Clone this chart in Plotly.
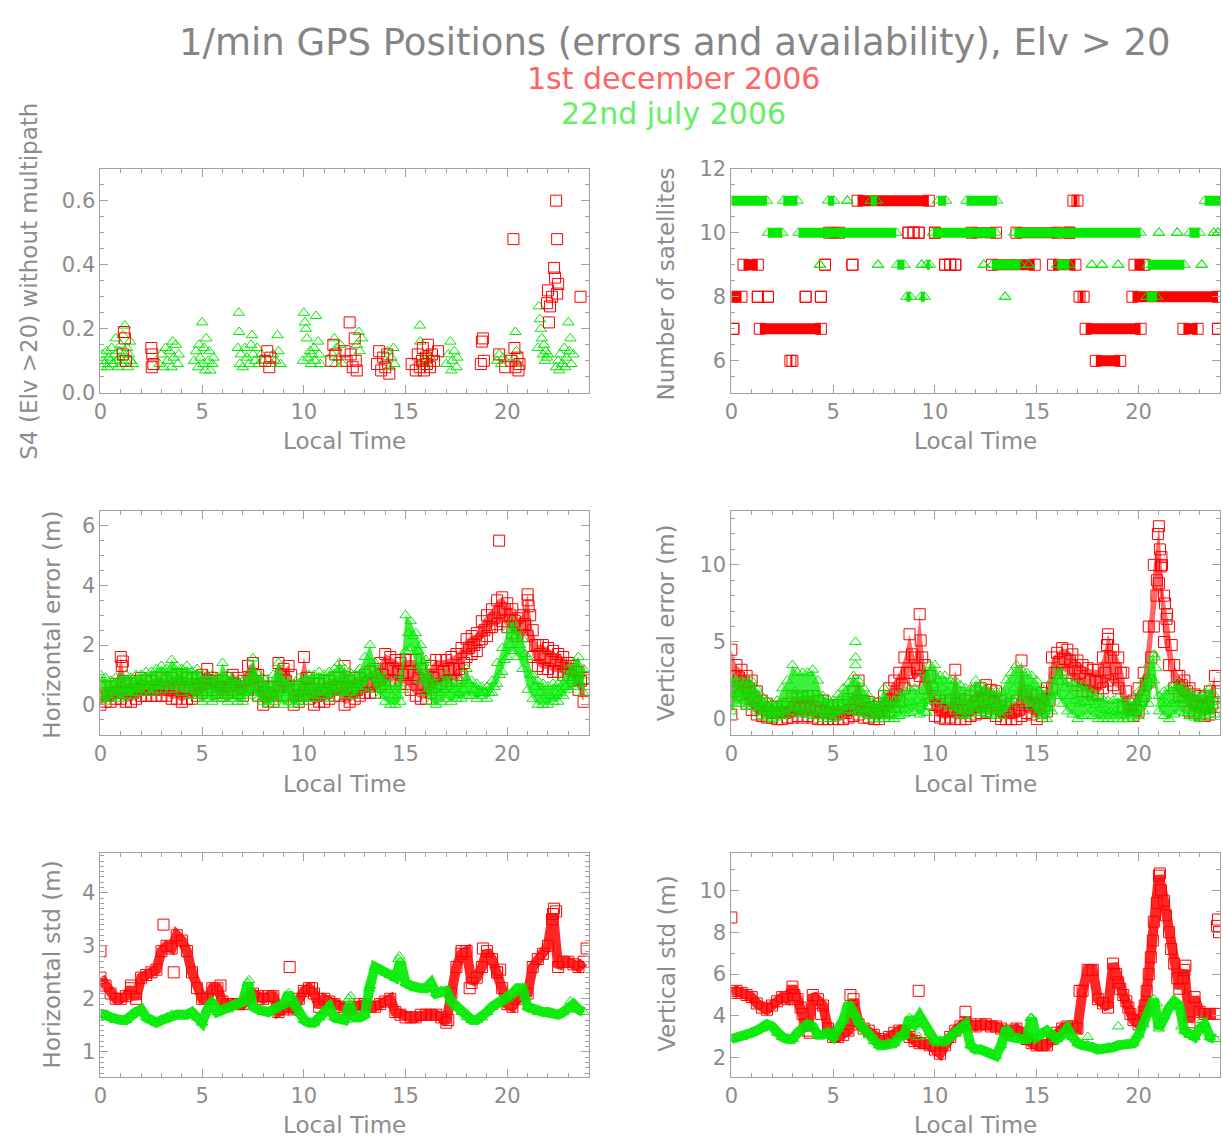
import plotly.graph_objects as go
from plotly.subplots import make_subplots

RED = 'rgb(255,0,0)'
GREEN = 'rgb(0,235,0)'
RED_FILL = 'rgba(255,0,0,0.6)'
GREEN_FILL = 'rgba(0,235,0,0.75)'
RED_BAND = 'rgba(255,0,0,0.85)'
GREEN_BAND = 'rgba(0,235,0,0.9)'
TXT = '#8c8c8c'
AX = '#a0a0a0'
FONT = 'DejaVu Sans'

# time grids (local hour) used by the error / std series
HOURS_A = [0.0, 0.25, 0.5, 0.75, 1.0, 1.25, 1.5, 1.75, 2.0, 2.25, 2.5, 2.75,
           3.0, 3.25, 3.5, 3.75, 4.0, 4.25, 4.5, 4.75, 5.0, 5.25, 5.5, 5.75,
           6.0, 6.25, 6.5, 6.75, 7.0, 7.25, 7.5, 7.75, 8.0, 8.25, 8.5, 8.75,
           9.0, 9.25, 9.5, 9.75, 10.0, 10.25, 10.5, 10.75, 11.0, 11.25, 11.5, 11.75,
           12.0, 12.25, 12.5, 12.75, 13.0, 13.25, 13.5, 13.75, 14.0, 14.25, 14.5, 14.75,
           15.0, 15.25, 15.5, 15.75, 16.0, 16.25, 16.5, 16.75, 17.0, 17.25, 17.5, 17.75,
           18.0, 18.25, 18.5, 18.75, 19.0, 19.25, 19.5, 19.75, 20.0, 20.25, 20.5, 20.75,
           21.0, 21.25, 21.5, 21.75, 22.0, 22.25, 22.5, 22.75, 23.0, 23.25, 23.5, 23.75]
HOURS_B = [0.125, 0.375, 0.625, 0.875, 1.125, 1.375, 1.625, 1.875, 2.125, 2.375, 2.625, 2.875,
           3.125, 3.375, 3.625, 3.875, 4.125, 4.375, 4.625, 4.875, 5.125, 5.375, 5.625, 5.875,
           6.125, 6.375, 6.625, 6.875, 7.125, 7.375, 7.625, 7.875, 8.125, 8.375, 8.625, 8.875,
           9.125, 9.375, 9.625, 9.875, 10.125, 10.375, 10.625, 10.875, 11.125, 11.375, 11.625, 11.875,
           12.125, 12.375, 12.625, 12.875, 13.125, 13.375, 13.625, 13.875, 14.125, 14.375, 14.625, 14.875,
           15.125, 15.375, 15.625, 15.875, 16.125, 16.375, 16.625, 16.875, 17.125, 17.375, 17.625, 17.875,
           18.125, 18.375, 18.625, 18.875, 19.125, 19.375, 19.625, 19.875, 20.125, 20.375, 20.625, 20.875,
           21.125, 21.375, 21.625, 21.875, 22.125, 22.375, 22.625, 22.875, 23.125, 23.375, 23.625, 23.875]

# --- S4 (scintillation index) ---
S4_GREEN_T = [0.05, 0.1, 0.15, 0.2, 0.3, 0.35, 0.4, 0.5, 0.55, 0.6, 0.7, 0.75, 0.8, 0.85, 0.9, 0.95,
              1.0, 1.05, 1.1, 1.15, 1.2, 1.25, 1.3, 1.35, 1.4, 1.45, 1.5, 1.6,
              2.9, 3.0, 3.1, 3.2, 3.3, 3.4, 3.5, 3.55, 3.6, 3.7, 3.8, 3.85,
              4.6, 4.7, 4.8, 4.85, 4.9, 5.0, 5.05, 5.1, 5.15, 5.2, 5.3, 5.35, 5.4, 5.5, 5.55,
              6.75, 6.8, 6.82, 6.85, 6.9, 7.0, 7.1, 7.2, 7.3, 7.4, 7.45, 7.5, 7.6, 7.7, 7.8, 7.9, 8.0,
              8.4, 8.5, 8.6, 8.7, 8.75, 8.85,
              9.95, 10.0, 10.05, 10.1, 10.15, 10.2, 10.3, 10.35, 10.4, 10.5, 10.55, 10.6, 10.7, 10.75, 10.8,
              11.4, 11.5, 11.55, 11.6, 11.7, 11.8, 11.9, 12.6, 12.7, 12.75, 12.85,
              14.0, 14.1, 14.2, 14.3, 14.4, 14.45, 15.7, 15.72, 15.8, 15.9, 16.0, 16.1, 16.2,
              17.0, 17.1, 17.2, 17.25, 17.3, 17.4, 17.5, 17.55, 19.5, 19.6, 19.7, 19.8,
              20.35, 20.4, 20.45, 20.5,
              21.5, 21.55, 21.6, 21.65, 21.7, 21.75, 21.8, 21.85, 21.9, 21.95, 22.0,
              22.4, 22.5, 22.55, 22.6, 22.7, 22.8, 22.85, 22.9, 23.0, 23.05, 23.1, 23.15, 23.25]
S4_GREEN = [0.08, 0.12, 0.1, 0.09, 0.13, 0.08, 0.11, 0.1, 0.14, 0.09, 0.12, 0.17, 0.1, 0.08, 0.13, 0.11,
            0.15, 0.09, 0.18, 0.12, 0.21, 0.1, 0.14, 0.08, 0.12, 0.16, 0.1, 0.09,
            0.09, 0.12, 0.08, 0.14, 0.1, 0.13, 0.08, 0.16, 0.11, 0.15, 0.09, 0.12,
            0.1, 0.13, 0.08, 0.15, 0.11, 0.22, 0.09, 0.14, 0.07, 0.17, 0.1, 0.13, 0.07, 0.09, 0.11,
            0.14, 0.25, 0.19, 0.09, 0.12, 0.08, 0.14, 0.11, 0.09, 0.15, 0.18, 0.12, 0.1, 0.14, 0.09, 0.12, 0.1,
            0.09, 0.12, 0.1, 0.18, 0.13, 0.09,
            0.1, 0.25, 0.22, 0.2, 0.17, 0.11, 0.13, 0.09, 0.12, 0.14, 0.1, 0.24, 0.16, 0.12, 0.09,
            0.12, 0.17, 0.09, 0.14, 0.11, 0.15, 0.09, 0.15, 0.19, 0.13, 0.17,
            0.1, 0.13, 0.08, 0.11, 0.14, 0.09, 0.21, 0.16, 0.1, 0.08, 0.12, 0.09, 0.11,
            0.09, 0.12, 0.16, 0.07, 0.1, 0.13, 0.08, 0.11, 0.1, 0.12, 0.09, 0.11,
            0.11, 0.19, 0.13, 0.09,
            0.14, 0.27, 0.23, 0.2, 0.17, 0.12, 0.15, 0.1, 0.13, 0.11, 0.12,
            0.08, 0.1, 0.07, 0.12, 0.09, 0.14, 0.08, 0.11, 0.22, 0.13, 0.17, 0.09, 0.12]
S4_RED_T = [1.1, 1.15, 1.2, 1.25, 2.5, 2.52, 2.55, 2.6, 8.1, 8.2, 8.3, 8.35,
            11.35, 11.45, 11.55, 12.0, 12.1, 12.25, 12.3, 12.4, 12.5, 12.55, 12.6,
            13.6, 13.7, 13.8, 13.9, 14.0, 14.1, 14.2,
            15.3, 15.5, 15.6, 15.7, 15.8, 15.85, 15.9, 16.0, 16.05, 16.1, 16.2, 16.3, 16.4, 16.6,
            18.7, 18.75, 18.8, 18.85, 19.6, 19.9, 20.2, 20.3, 20.35, 20.4, 20.5, 20.55, 20.6,
            21.95, 22.0, 22.05, 22.1, 22.2, 22.3, 22.35, 22.4, 22.45, 22.5, 22.45, 23.6]
S4_RED = [0.12, 0.19, 0.17, 0.1, 0.14, 0.08, 0.12, 0.09, 0.1, 0.13, 0.08, 0.11,
          0.1, 0.15, 0.12, 0.13, 0.1, 0.22, 0.12, 0.08, 0.17, 0.1, 0.07,
          0.09, 0.13, 0.07, 0.11, 0.08, 0.12, 0.06,
          0.09, 0.07, 0.12, 0.08, 0.1, 0.14, 0.07, 0.11, 0.09, 0.15, 0.08, 0.12, 0.1, 0.13,
          0.09, 0.16, 0.17, 0.1, 0.12, 0.08, 0.1, 0.48, 0.14, 0.08, 0.11, 0.07, 0.09,
          0.28, 0.32, 0.22, 0.27, 0.3, 0.39, 0.36, 0.6, 0.48, 0.34, 0.31, 0.3]

# --- number of satellites: (first hour, last hour) of each run at a given count ---
SAT_RED_RUNS = {
    11: [(6.2, 9.7), (16.8, 17.0)],
    10: [(4.8, 5.3), (8.7, 8.7), (8.95, 8.95), (9.2, 9.2), (10.0, 10.0), (11.8, 13.0),
         (14.0, 16.0), (16.6, 16.6)],
    9: [(0.6, 1.3), (4.6, 4.6), (5.95, 5.95), (10.5, 10.5), (10.75, 10.75), (11.0, 11.0),
        (12.8, 14.9), (15.8, 16.9), (19.8, 20.3)],
    8: [(0.0, 0.5), (1.3, 1.3), (1.8, 1.8), (3.65, 3.65), (4.4, 4.4), (17.1, 17.3), (19.7, 23.9)],
    7: [(0.1, 0.1), (1.4, 4.4), (17.4, 20.1), (22.2, 22.9), (23.9, 23.9)],
    6: [(2.9, 3.0), (17.9, 19.1)],
}
SAT_GREEN_RUNS = {
    11: [(0.0, 1.75), (2.55, 3.25), (4.75, 5.05), (5.7, 5.7), (6.85, 7.15), (10.15, 10.55),
         (11.55, 13.05), (23.25, 24.0)],
    10: [(1.8, 2.5), (3.3, 8.1), (9.9, 13.0), (13.9, 20.1), (21.0, 21.0), (21.9, 21.9),
         (22.5, 23.0), (23.7, 23.7), (23.9, 23.9)],
    9: [(4.35, 4.35), (7.2, 7.2), (8.15, 8.5), (9.35, 9.35), (9.6, 9.75), (12.4, 12.4),
        (12.8, 14.2), (14.6, 14.6), (16.0, 16.6), (17.7, 17.7), (18.2, 18.2), (19.0, 19.0),
        (20.45, 22.25), (23.1, 23.1)],
    8: [(8.6, 8.8), (9.3, 9.5), (13.45, 13.45), (20.4, 20.9)],
}

# --- horizontal error (m): low edge / middle / high edge of the cloud ---
HERR_RED_LO = [0.0, 0.1, 0.1, 0.2, 0.2, 0.1, 0.1, 0.2, 0.3, 0.3, 0.3, 0.3, 0.3, 0.3, 0.2, 0.2,
               0.1, 0.2, 0.2, 0.3, 0.4, 0.5, 0.5, 0.4, 0.3, 0.4, 0.5, 0.4, 0.3, 0.5, 0.6, 0.3,
               0.0, 0.1, 0.1, 0.6, 0.3, 0.6, 0.0, 0.1, 0.3, 0.2, 0.0, 0.1, 0.1, 0.2, 0.3, 0.3,
               0.0, 0.1, 0.2, 0.3, 0.4, 0.4, 0.4, 0.6, 0.7, 0.8, 0.8, 0.7, 0.7, 0.5, 0.3, 0.2,
               0.2, 0.4, 0.6, 0.7, 0.8, 0.8, 0.8, 1.0, 1.6, 1.7, 1.8, 2.2, 2.3, 2.6, 2.7, 2.8,
               2.6, 2.4, 2.3, 2.3, 2.3, 1.6, 1.3, 1.2, 1.2, 1.1, 1.1, 1.0, 1.0, 0.8, 0.5, 0.1]
HERR_RED_MID = [0.3, 0.3, 0.4, 0.4, 0.8, 0.4, 0.4, 0.5, 0.6, 0.5, 0.5, 0.6, 0.6, 0.5, 0.5, 0.6,
                0.5, 0.5, 0.5, 0.6, 0.7, 0.8, 0.7, 0.6, 0.5, 0.6, 0.7, 0.6, 0.5, 0.9, 1.0, 0.6,
                0.4, 0.3, 0.3, 1.0, 0.8, 1.0, 0.3, 0.3, 0.9, 0.5, 0.3, 0.4, 0.4, 0.5, 0.6, 0.6,
                0.6, 0.4, 0.5, 0.6, 0.7, 0.7, 0.8, 1.0, 1.2, 1.2, 1.1, 1.0, 1.1, 1.0, 0.9, 0.7,
                0.6, 0.9, 1.0, 1.1, 1.2, 1.2, 1.2, 1.4, 1.9, 2.0, 2.1, 2.5, 2.6, 2.9, 3.1, 3.2,
                3.0, 2.8, 2.6, 2.7, 3.0, 2.0, 1.7, 1.6, 1.5, 1.5, 1.4, 1.3, 1.2, 1.1, 0.8, 0.5]
HERR_RED_HI = [0.6, 0.6, 0.6, 0.7, 1.6, 0.7, 0.7, 0.8, 0.9, 0.8, 0.8, 0.9, 0.9, 0.8, 0.9, 1.0,
               1.0, 0.9, 0.9, 0.9, 1.0, 1.2, 0.9, 0.8, 0.8, 0.9, 1.0, 0.9, 0.8, 1.3, 1.4, 1.0,
               0.8, 0.6, 0.6, 1.4, 1.2, 1.3, 0.5, 0.6, 1.6, 0.9, 0.7, 0.7, 0.8, 0.8, 0.9, 0.9,
               1.3, 0.8, 0.9, 0.9, 1.0, 1.1, 1.2, 1.4, 1.7, 1.6, 1.5, 1.4, 1.5, 1.5, 1.5, 1.2,
               1.0, 1.3, 1.5, 1.5, 1.5, 1.6, 1.7, 1.9, 2.2, 2.3, 2.4, 2.8, 3.0, 3.2, 3.5, 3.6,
               3.4, 3.2, 2.9, 3.0, 3.7, 2.5, 2.0, 2.0, 1.9, 1.8, 1.7, 1.6, 1.4, 1.3, 1.1, 0.9]
HERR_RED_EXTRA_T = [1.05, 1.1, 19.6, 21.0, 21.05]
HERR_RED_EXTRA = [1.3, 1.45, 5.5, 3.5, 3.3]
HERR_GREEN_LO = [0.2, 0.1, 0.2, 0.3, 0.2, 0.3, 0.3, 0.4, 0.4, 0.5, 0.4, 0.5, 0.5, 0.6, 0.5, 0.6,
                 0.4, 0.5, 0.3, 0.3, 0.1, 0.2, 0.1, 0.2, 0.2, 0.1, 0.2, 0.1, 0.1, 0.3, 0.4, 0.2,
                 0.1, 0.0, 0.1, 0.2, 0.0, 0.1, 0.0, 0.1, 0.1, 0.2, 0.2, 0.3, 0.3, 0.2, 0.4, 0.4,
                 0.3, 0.4, 0.3, 0.5, 0.6, 0.9, 0.5, 0.3, 0.1, 0.0, 0.0, 0.1, 1.8, 1.9, 1.3, 0.8,
                 0.4, 0.1, 0.0, 0.1, 0.2, 0.1, 0.2, 0.2, 0.3, 0.3, 0.2, 0.3, 0.2, 0.4, 0.7, 1.1,
                 1.6, 1.8, 1.6, 1.2, 0.5, 0.2, 0.0, 0.0, 0.0, 0.1, 0.1, 0.3, 0.5, 0.6, 0.7, 0.4]
HERR_GREEN_MID = [0.6, 0.5, 0.5, 0.6, 0.6, 0.6, 0.6, 0.7, 0.7, 0.8, 0.7, 0.8, 0.9, 0.9, 1.0, 0.9,
                  0.8, 0.9, 0.7, 0.7, 0.5, 0.5, 0.6, 0.5, 0.7, 0.6, 0.5, 0.4, 0.4, 0.6, 0.9, 0.6,
                  0.5, 0.4, 0.5, 0.8, 0.4, 0.5, 0.3, 0.5, 0.5, 0.6, 0.6, 0.7, 0.6, 0.7, 0.8, 0.9,
                  0.7, 0.7, 0.6, 0.8, 1.1, 1.4, 0.9, 0.7, 0.5, 0.3, 0.3, 0.5, 2.4, 2.3, 1.8, 1.4,
                  0.9, 0.5, 0.4, 0.5, 0.6, 0.5, 0.4, 0.5, 0.7, 0.5, 0.4, 0.4, 0.4, 0.6, 1.0, 1.5,
                  2.0, 2.3, 2.0, 1.7, 1.0, 0.6, 0.4, 0.3, 0.3, 0.4, 0.4, 0.6, 0.8, 1.0, 1.1, 0.8]
HERR_GREEN_HI = [1.0, 0.9, 0.8, 0.9, 0.9, 1.0, 0.9, 1.0, 1.0, 1.1, 1.1, 1.2, 1.3, 1.2, 1.5, 1.3,
                 1.2, 1.3, 1.1, 1.2, 1.0, 0.9, 1.0, 0.9, 1.4, 1.0, 0.9, 0.8, 0.8, 1.0, 1.55, 1.0,
                 0.9, 0.7, 1.0, 1.4, 0.9, 0.8, 0.7, 0.9, 0.9, 1.0, 1.0, 1.1, 1.0, 1.1, 1.2, 1.4,
                 1.2, 1.1, 1.0, 1.2, 1.6, 2.0, 1.4, 1.1, 0.9, 0.7, 0.6, 1.0, 3.0, 2.8, 2.4, 2.0,
                 1.5, 0.9, 0.7, 0.8, 1.0, 0.8, 0.7, 0.8, 1.2, 0.8, 0.7, 0.6, 0.6, 0.8, 1.4, 1.9,
                 2.5, 2.8, 2.5, 2.2, 1.6, 1.0, 0.8, 0.7, 0.6, 0.7, 0.7, 0.9, 1.2, 1.4, 1.6, 1.2]

# --- vertical error (m) ---
VERR_RED_LO = [0.3, 1.8, 1.6, 1.0, 0.6, 0.3, 0.2, 0.1, 0.1, 0.0, 0.0, 0.1, 0.1, 0.2, 0.1, 0.2,
               0.1, 0.0, 0.0, 0.0, 0.0, 0.0, 0.0, 0.1, 0.2, 0.3, 0.1, 0.1, 0.0, 0.0, 0.2, 0.5,
               0.8, 1.2, 2.0, 3.0, 2.5, 2.8, 2.0, 1.0, 0.2, 0.1, 0.0, 0.1, 0.0, 0.0, 0.0, 0.2,
               0.3, 0.4, 0.5, 0.4, 0.2, 0.0, 0.0, 0.0, 0.0, 0.2, 0.4, 0.3, 0.0, 0.2, 0.5, 2.0,
               3.0, 3.2, 3.0, 2.5, 2.2, 1.8, 1.8, 1.6, 1.6, 2.0, 2.5, 2.2, 2.0, 0.8, 0.2, 0.2,
               0.5, 1.5, 2.5, 6.0, 8.8, 5.0, 3.5, 2.0, 1.5, 1.2, 0.5, 0.4, 0.3, 0.2, 0.3, 0.8]
VERR_RED_MID = [2.8, 2.7, 2.4, 2.0, 1.4, 1.0, 0.7, 0.5, 0.4, 0.4, 0.4, 0.5, 0.7, 0.8, 0.7, 0.8,
                0.7, 0.5, 0.5, 0.4, 0.3, 0.4, 0.4, 0.6, 1.0, 1.2, 0.7, 0.6, 0.4, 0.5, 0.8, 1.2,
                1.6, 2.2, 3.0, 4.2, 3.3, 4.0, 2.8, 2.0, 0.9, 0.6, 0.5, 0.6, 1.0, 0.6, 0.6, 0.8,
                1.0, 1.2, 1.3, 1.1, 0.9, 0.5, 0.4, 0.5, 0.6, 1.5, 1.0, 0.9, 0.7, 0.9, 1.2, 3.0,
                3.7, 3.9, 3.8, 3.3, 3.0, 2.6, 2.5, 2.4, 2.4, 3.0, 4.0, 3.3, 3.0, 1.8, 0.6, 0.6,
                1.2, 2.3, 4.0, 8.0, 10.5, 6.5, 4.8, 2.8, 2.2, 1.8, 1.2, 1.0, 0.9, 0.8, 1.0, 1.8]
VERR_RED_HI = [4.5, 3.5, 3.2, 2.8, 2.5, 1.8, 1.2, 1.0, 0.8, 0.8, 0.8, 1.0, 1.5, 1.4, 1.4, 1.5,
               1.5, 1.2, 1.2, 0.9, 0.8, 0.9, 0.9, 1.3, 1.8, 2.5, 1.2, 1.1, 0.8, 1.0, 1.5, 2.0,
               2.5, 3.0, 4.0, 5.5, 4.0, 6.8, 3.5, 2.8, 1.5, 1.2, 1.0, 1.2, 3.2, 1.3, 1.2, 1.5,
               1.8, 2.0, 2.2, 1.9, 1.8, 1.2, 0.8, 1.0, 1.2, 3.8, 1.8, 1.6, 1.5, 1.7, 2.0, 4.0,
               4.3, 4.6, 4.5, 4.2, 3.8, 3.5, 3.3, 3.2, 3.2, 4.0, 5.5, 4.5, 4.0, 3.0, 1.0, 1.2,
               2.0, 3.0, 6.0, 10.0, 12.5, 8.0, 6.0, 3.5, 2.8, 2.5, 2.0, 1.6, 1.5, 1.4, 1.8, 2.8]
VERR_RED_EXTRA_T = [9.3, 18.45, 18.5, 20.9, 20.95, 21.05, 21.1, 21.15, 21.3, 21.4]
VERR_RED_EXTRA = [5.1, 4.8, 5.2, 9.0, 12.0, 11.0, 9.9, 10.0, 7.5, 6.8]
VERR_GREEN_LO = [0.5, 1.0, 1.0, 0.8, 0.8, 0.5, 0.2, 0.1, 0.0, 0.1, 0.2, 0.3, 0.5, 0.4, 0.3, 0.3,
                 0.2, 0.2, 0.0, 0.0, 0.0, 0.2, 0.5, 0.6, 0.5, 0.4, 0.3, 0.2, 0.0, 0.0, 0.0, 0.0,
                 0.0, 0.2, 0.3, 0.4, 0.5, 0.3, 0.5, 1.2, 1.5, 1.2, 1.0, 0.8, 0.5, 0.3, 0.2, 0.3,
                 0.5, 0.4, 0.3, 0.3, 0.2, 0.2, 0.5, 1.0, 1.5, 1.3, 1.0, 0.8, 0.3, 0.2, 0.0, 0.5,
                 1.5, 1.0, 0.5, 0.3, 0.0, 0.2, 0.3, 0.2, 0.0, 0.0, 0.0, 0.0, 0.0, 0.0, 0.0, 0.1,
                 0.2, 0.5, 1.0, 2.5, 0.5, 0.2, 0.0, 0.3, 0.5, 0.4, 0.2, 0.1, 0.0, 0.2, 0.3, 0.3]
VERR_GREEN_MID = [1.6, 1.8, 1.7, 1.6, 1.5, 1.1, 0.8, 0.6, 0.5, 0.6, 1.0, 1.2, 1.8, 1.6, 1.5, 1.6,
                  1.6, 1.2, 0.7, 0.6, 0.6, 0.9, 1.2, 1.4, 1.6, 1.4, 1.1, 0.8, 0.5, 0.6, 0.8, 0.6,
                  0.6, 0.9, 1.0, 1.1, 1.2, 1.0, 1.5, 2.2, 2.5, 2.0, 1.8, 1.6, 1.4, 1.2, 1.0, 1.1,
                  1.5, 1.2, 1.0, 1.0, 0.9, 0.9, 1.4, 2.0, 2.5, 2.2, 2.0, 1.8, 1.3, 1.0, 0.7, 1.5,
                  2.4, 2.0, 1.5, 1.2, 1.0, 1.1, 1.1, 0.9, 0.7, 0.6, 0.5, 0.5, 0.6, 0.5, 0.5, 0.6,
                  1.0, 1.5, 2.2, 3.3, 1.0, 1.0, 1.0, 1.2, 1.4, 1.2, 1.0, 0.8, 0.7, 0.9, 1.1, 0.9]
VERR_GREEN_HI = [2.8, 2.5, 2.5, 2.5, 2.5, 2.0, 1.5, 1.2, 1.0, 1.2, 2.0, 2.5, 3.5, 3.0, 3.0, 3.0,
                 3.2, 2.5, 1.5, 1.3, 1.2, 1.6, 2.0, 2.3, 2.8, 2.5, 2.0, 1.5, 1.0, 1.2, 2.0, 1.2,
                 1.2, 1.6, 1.8, 2.0, 2.0, 1.8, 3.0, 3.5, 3.5, 2.8, 2.8, 2.5, 2.5, 2.2, 2.0, 2.0,
                 2.5, 2.2, 2.0, 1.8, 1.8, 1.8, 2.5, 3.0, 3.5, 3.2, 3.0, 2.8, 2.5, 2.0, 1.5, 2.5,
                 3.3, 3.0, 2.5, 2.3, 2.3, 2.2, 2.0, 1.7, 1.5, 1.3, 1.2, 1.2, 1.4, 1.2, 1.0, 1.2,
                 1.8, 2.5, 3.5, 4.2, 1.5, 1.8, 2.0, 2.2, 2.3, 2.0, 1.8, 1.6, 1.5, 1.7, 2.0, 1.5]
VERR_GREEN_EXTRA_T = [6.1, 6.1, 6.1, 9.6, 9.65, 20.8]
VERR_GREEN_EXTRA = [5.0, 4.0, 3.5, 0.4, 0.8, 4.0]

# --- horizontal std (m) ---
HSTD_RED = [2.4, 2.25, 2.1, 2.0, 2.0, 2.05, 2.2, 2.0, 2.4, 2.45, 2.5, 2.55, 2.9, 3.0, 2.95, 3.2,
            3.1, 2.9, 2.5, 2.2, 2.0, 2.0, 2.2, 2.2, 1.95, 1.9, 1.9, 1.9, 1.9, 2.0, 2.1, 2.05,
            2.0, 2.05, 2.05, 1.75, 1.8, 1.85, 1.8, 2.0, 2.15, 2.2, 2.1, 1.85, 2.0, 1.95, 1.9, 1.85,
            1.8, 1.8, 1.85, 1.9, 1.9, 1.85, 1.85, 1.9, 1.95, 2.0, 1.75, 1.7, 1.65, 1.65, 1.65, 1.7,
            1.7, 1.7, 1.7, 1.65, 1.55, 2.1, 2.6, 2.85, 2.9, 2.3, 2.4, 2.6, 2.9, 2.75, 2.5, 2.2,
            1.9, 1.85, 2.0, 2.05, 2.1, 2.6, 2.75, 2.85, 3.0, 3.6, 2.6, 2.7, 2.7, 2.65, 2.6, 2.7]
HSTD_RED_EXTRA_T = [0.0, 1.5, 3.1, 3.6, 5.9, 9.3, 10.4, 17.1, 17.75, 18.15, 18.8, 19.5, 19.65,
                    22.2, 22.3, 22.4, 23.9]
HSTD_RED_EXTRA = [2.9, 2.25, 3.4, 2.5, 2.25, 2.6, 2.2, 1.6, 2.9, 2.2, 2.95, 2.5, 2.55,
                  3.5, 3.7, 3.65, 2.95]
HSTD_GREEN = [1.7, 1.7, 1.65, 1.6, 1.6, 1.6, 1.7, 1.75, 1.8, 1.65, 1.6, 1.55, 1.6, 1.65, 1.7, 1.7,
              1.7, 1.7, 1.75, 1.65, 1.55, 1.8, 1.95, 1.75, 1.8, 1.8, 1.85, 1.9, 1.95, 2.3, 1.85, 1.8,
              1.75, 1.75, 1.8, 1.85, 1.9, 2.1, 1.9, 1.75, 1.6, 1.55, 1.55, 1.65, 1.75, 1.85, 1.65, 1.6,
              1.6, 1.9, 1.65, 1.65, 1.7, 2.25, 2.6, 2.55, 2.5, 2.45, 2.4, 2.7, 2.3, 2.25, 2.2, 2.2,
              2.2, 2.3, 2.1, 2.15, 2.15, 1.95, 1.85, 1.75, 1.65, 1.6, 1.6, 1.65, 1.75, 1.85, 1.9, 1.95,
              2.0, 2.1, 2.2, 2.2, 1.85, 1.8, 1.75, 1.75, 1.75, 1.7, 1.7, 1.75, 1.8, 1.9, 1.8, 1.75]
HSTD_GREEN_EXTRA_T = [5.45, 7.3, 12.2, 12.3, 13.2, 14.65, 14.7, 23.1]
HSTD_GREEN_EXTRA = [1.95, 2.35, 2.0, 2.05, 2.2, 2.75, 2.8, 1.95]

# --- vertical std (m) ---
VSTD_RED = [5.1, 5.2, 5.1, 5.0, 4.9, 4.6, 4.4, 4.3, 4.5, 4.7, 4.9, 4.8, 5.4, 4.8, 4.1, 3.3,
            5.0, 4.8, 4.5, 3.4, 3.0, 3.0, 3.1, 3.3, 4.8, 3.6, 3.4, 3.3, 3.1, 2.9, 2.8, 3.0,
            3.2, 3.3, 3.3, 3.0, 2.8, 2.7, 2.7, 2.6, 2.4, 2.2, 2.6, 3.0, 3.3, 3.5, 3.7, 3.6,
            3.5, 3.6, 3.6, 3.5, 3.5, 3.4, 3.2, 3.3, 3.4, 3.2, 2.9, 2.7, 2.6, 2.6, 2.6, 2.9,
            3.2, 3.4, 3.5, 3.5, 3.4, 5.2, 6.2, 6.2, 4.8, 4.6, 4.4, 6.5, 5.6, 5.0, 4.4, 3.8,
            3.6, 4.2, 6.0, 8.5, 10.7, 9.5, 8.0, 6.5, 5.3, 6.2, 3.7, 4.9, 4.2, 4.1, 4.1, 4.1]
VSTD_RED_EXTRA_T = [0.0, 3.1, 3.4, 3.6, 3.85, 4.4, 5.85, 9.2, 11.5, 17.1, 18.9, 19.1, 19.4, 19.6,
                    20.3, 20.4, 20.6, 20.7, 20.9, 21.05, 21.1, 21.35, 21.6, 21.9, 22.2, 22.3,
                    23.85, 23.9, 23.95]
VSTD_RED_EXTRA = [8.7, 5.0, 4.4, 3.6, 3.2, 4.1, 5.0, 5.2, 4.2, 5.2, 6.0, 5.3, 4.7, 4.1,
                  4.5, 5.2, 6.8, 7.6, 9.4, 10.8, 10.0, 8.8, 7.2, 5.8, 5.8, 6.4,
                  8.3, 8.6, 8.0]
VSTD_GREEN = [2.9, 2.95, 3.0, 3.1, 3.2, 3.3, 3.4, 3.6, 3.5, 3.2, 3.0, 2.9, 2.9, 3.2, 3.4, 3.6,
              3.5, 3.1, 3.1, 3.2, 3.0, 3.4, 3.8, 4.6, 4.1, 3.7, 3.4, 3.1, 2.8, 2.6, 2.6, 2.7,
              2.7, 3.0, 3.1, 3.9, 3.6, 4.0, 3.6, 3.2, 2.8, 2.8, 2.8, 3.0, 3.2, 3.4, 3.6, 2.6,
              2.4, 2.4, 2.3, 2.2, 2.1, 2.6, 3.4, 3.0, 2.9, 2.9, 2.9, 3.9, 3.0, 3.2, 3.3, 3.1,
              2.9, 3.1, 3.4, 3.0, 2.7, 2.6, 2.6, 2.5, 2.4, 2.4, 2.5, 2.5, 2.6, 2.6, 2.6, 2.7,
              3.1, 3.6, 4.3, 4.8, 3.4, 4.0, 4.4, 4.7, 4.5, 3.3, 3.1, 3.0, 3.4, 3.6, 3.0, 2.9]
VSTD_GREEN_EXTRA_T = [9.2, 14.7, 17.5, 19.0, 20.9, 21.0, 22.1, 23.1]
VSTD_GREEN_EXTRA = [3.0, 3.9, 3.0, 3.5, 4.6, 3.6, 3.5, 3.8]

fig = make_subplots(rows=3, cols=2)


def sym(color):
    if color == RED:
        return dict(symbol='square-open', size=11, color=color, line=dict(width=1, color=color))
    return dict(symbol='triangle-up-open', size=10, color=color, line=dict(width=1, color=color))


def marks(x, y, color, row, col):
    fig.add_trace(go.Scatter(x=x, y=y, mode='markers', hoverinfo='skip', marker=sym(color)),
                  row=row, col=col)


def cloud(lo, mid, hi, color, fill, row, col):
    # dense 1/min cloud: shaded between its edges, plus the sampled markers
    fig.add_trace(go.Scatter(x=HOURS_A + HOURS_A[::-1], y=lo + hi[::-1], mode='lines',
                             fill='toself', fillcolor=fill, line=dict(width=0),
                             hoverinfo='skip'), row=row, col=col)
    marks(HOURS_A, lo, color, row, col)
    marks(HOURS_B, mid, color, row, col)
    marks(HOURS_A, hi, color, row, col)


def band(y, color, line_color, row, col):
    fig.add_trace(go.Scatter(x=HOURS_A, y=y, mode='lines+markers', hoverinfo='skip',
                             line=dict(color=line_color, width=10), marker=sym(color)),
                  row=row, col=col)


def runs(table, color, width, row, col):
    for n, spans in table.items():
        xs, ys = [], []
        for a, b in spans:
            xs += [a, b, None]
            ys += [n, n, None]
        fig.add_trace(go.Scatter(x=xs, y=ys, mode='lines+markers', hoverinfo='skip',
                                 line=dict(color=color, width=width), marker=sym(color)),
                      row=row, col=col)


# S4
marks(S4_GREEN_T, S4_GREEN, GREEN, 1, 1)
marks(S4_RED_T, S4_RED, RED, 1, 1)

# satellites
runs(SAT_RED_RUNS, RED, 11, 1, 2)
runs(SAT_GREEN_RUNS, GREEN, 10, 1, 2)

# horizontal error
cloud(HERR_RED_LO, HERR_RED_MID, HERR_RED_HI, RED, RED_FILL, 2, 1)
marks(HERR_RED_EXTRA_T, HERR_RED_EXTRA, RED, 2, 1)
cloud(HERR_GREEN_LO, HERR_GREEN_MID, HERR_GREEN_HI, GREEN, GREEN_FILL, 2, 1)

# vertical error
cloud(VERR_RED_LO, VERR_RED_MID, VERR_RED_HI, RED, RED_FILL, 2, 2)
marks(VERR_RED_EXTRA_T, VERR_RED_EXTRA, RED, 2, 2)
cloud(VERR_GREEN_LO, VERR_GREEN_MID, VERR_GREEN_HI, GREEN, GREEN_FILL, 2, 2)
marks(VERR_GREEN_EXTRA_T, VERR_GREEN_EXTRA, GREEN, 2, 2)

# std panels
band(HSTD_RED, RED, RED_BAND, 3, 1)
marks(HSTD_RED_EXTRA_T, HSTD_RED_EXTRA, RED, 3, 1)
band(HSTD_GREEN, GREEN, GREEN_BAND, 3, 1)
marks(HSTD_GREEN_EXTRA_T, HSTD_GREEN_EXTRA, GREEN, 3, 1)
band(VSTD_RED, RED, RED_BAND, 3, 2)
marks(VSTD_RED_EXTRA_T, VSTD_RED_EXTRA, RED, 3, 2)
band(VSTD_GREEN, GREEN, GREEN_BAND, 3, 2)
marks(VSTD_GREEN_EXTRA_T, VSTD_GREEN_EXTRA, GREEN, 3, 2)

W, H = 1223, 1147


def px(x):
    return x / W


def py(y):
    return 1 - y / H


cols = {1: (94, 585), 2: (728.5, 1220)}
rows = {1: (160, 389), 2: (509.5, 738), 3: (858.5, 1087.5)}
# (row, col): y range, major step, minor step, format
yspec = {
    (1, 1): ([0, 0.7], 0.2, 0.05, '.1f'),
    (1, 2): ([5, 12], 2, 0.5, 'd'),
    (2, 1): ([-1, 6.5], 2, 0.5, 'd'),
    (2, 2): ([-1, 13.5], 5, 1, 'd'),
    (3, 1): ([0.53, 4.76], 1, 0.1, 'd'),
    (3, 2): ([1.1, 11.8], 2, 1, 'd'),
}
common = dict(showline=True, linecolor=AX, linewidth=1, mirror='allticks', ticks='inside',
              ticklen=8, tickcolor=AX, showgrid=False, zeroline=False,
              tickfont=dict(family=FONT, size=21, color=TXT))
for (r, c), (yr, dt, mdt, fmt) in yspec.items():
    x0, x1 = cols[c]
    y0, y1 = rows[r]
    fig.update_xaxes(domain=[px(x0), px(x1)], range=[0, 24], tick0=0, dtick=5,
                     minor=dict(ticks='inside', ticklen=4, dtick=1, tickcolor=AX),
                     row=r, col=c, **common)
    fig.update_yaxes(domain=[py(y1), py(y0)], range=yr, tick0=0, dtick=dt,
                     tickformat=fmt,
                     minor=dict(ticks='inside', ticklen=4, dtick=mdt, tick0=0, tickcolor=AX),
                     row=r, col=c, **common)

notes = []


def label(text, x, y, size, color=TXT, angle=0):
    notes.append(dict(text=text, x=px(x), y=py(y), xref='paper', yref='paper',
                      showarrow=False, textangle=angle, xanchor='center', yanchor='middle',
                      font=dict(family=FONT, size=size, color=color)))


label('1/min GPS Positions (errors and availability), Elv > 20', 672, 31, 37, color='#858585')
label('1st december 2006', 670, 68, 30, color='rgb(255,100,100)')
label('22nd july 2006', 670, 104, 30, color='rgb(100,240,100)')
for yy in (438, 788, 1137):
    label('Local Time', 339.5, yy, 23)
    label('Local Time', 974, yy, 23)
label('S4 (Elv >20) without multipath', 22, 274.5, 23, angle=-90)
label('Number of satellites', 663, 278, 23, angle=-90)
label('Horizontal error (m)', 45, 626, 23, angle=-90)
label('Vertical error (m)', 663, 624, 23, angle=-90)
label('Horizontal std (m)', 45, 973, 23, angle=-90)
label('Vertical std (m)', 663, 972, 23, angle=-90)

fig.update_layout(width=W, height=H, margin=dict(l=0, r=0, t=0, b=0),
                  paper_bgcolor='white', plot_bgcolor='white', showlegend=False,
                  annotations=notes)

# drop the default body margin so the figure fills the window exactly
fig.write_html("out.html", config={'displayModeBar': False},
               post_script="document.body.style.margin='0';")
